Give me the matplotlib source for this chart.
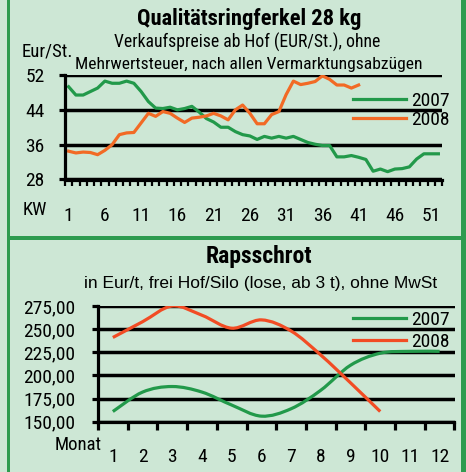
import matplotlib.pyplot as plt
import numpy as np
from matplotlib.path import Path
from matplotlib.patches import PathPatch, Rectangle
from matplotlib.lines import Line2D

# Qualitaetsringferkel 28 kg, Eur/St. je Kalenderwoche
weeks = list(range(1, 53))
ferkel_2007 = [49.3, 47.4, 47.4, 48.2, 49.0, 50.6, 50.1, 50.1, 50.6, 50.1,
               48.2, 45.9, 44.4, 44.3, 44.6, 44.0, 44.3, 44.8, 43.5, 42.0,
               41.2, 40.0, 40.0, 39.0, 38.3, 38.0, 37.2, 37.9, 37.5, 37.9,
               37.5, 37.9, 37.2, 36.5, 36.1, 35.8, 35.8, 33.2, 33.2, 33.5,
               33.1, 32.6, 29.9, 30.4, 29.8, 30.4, 30.5, 30.9, 32.7, 33.9,
               33.9, 33.9]
ferkel_2008 = [34.5, 34.1, 34.3, 34.2, 33.7, 34.7, 36.0, 38.3, 38.7, 38.8,
               41.0, 43.2, 42.5, 43.6, 43.2, 42.1, 41.1, 42.1, 42.3, 42.6,
               43.2, 42.6, 41.7, 44.0, 45.1, 43.2, 40.8, 40.8, 42.9, 43.6,
               47.5, 50.6, 49.8, 50.1, 50.5, 51.8, 51.0, 49.7, 49.7, 49.0,
               49.7]
ferkel_yticks = [28, 36, 44, 52]
ferkel_xticks = [1, 6, 11, 16, 21, 26, 31, 36, 41, 46, 51]

# Rapsschrot, Eur/t je Monat
months = list(range(1, 13))
raps_2007 = [161, 182, 188, 182, 168, 156, 164, 184, 211, 224, 226, 226]
raps_2008 = [241, 258, 275, 265, 251, 260, 248, 222, 192, 161]
raps_yticks = [150, 175, 200, 225, 250, 275]
raps_ylabels = ['150,00', '175,00', '200,00', '225,00', '250,00', '275,00']

W, H = 466, 472
bg = '#cde7d5'
frame = '#2e9b4f'
green = '#22994a'
orange = '#f26a25'
red = '#f24c24'

plt.rcParams['font.family'] = ['Roboto Condensed', 'Liberation Sans', 'DejaVu Sans']


def fx(px):
    return px / W


def fy(py):
    return 1 - py / H


def smooth_path(xs, ys):
    # Excel-artige geglaettete Linie als Bezier-Pfad
    p = np.column_stack([xs, ys]).astype(float)
    pts = np.vstack([p[0], p, p[-1]])
    verts = [p[0]]
    codes = [Path.MOVETO]
    for i in range(1, len(p)):
        p0, p1, p2, p3 = pts[i - 1], pts[i], pts[i + 1], pts[i + 2]
        verts += [p1 + (p2 - p0) / 6, p2 - (p3 - p1) / 6, p2]
        codes += [Path.CURVE4] * 3
    return Path(verts, codes)


def style_axes(ax, n_cat, labels, comb_len, comb_w, xpad, ypad):
    ax.set_facecolor('none')
    for s in ['top', 'right']:
        ax.spines[s].set_visible(False)
    for s in ['left', 'bottom']:
        ax.spines[s].set_linewidth(2.3)
        ax.spines[s].set_color('black')
    ax.grid(axis='y', color='black', linewidth=2.5)
    ax.set_axisbelow(True)
    # Striche an den Kategoriegrenzen, Beschriftung in der Mitte
    ax.set_xticks(np.arange(0.5, n_cat + 1, 1), labels=[])
    ax.set_xticks(labels, labels=[str(v) for v in labels], minor=True)
    ax.tick_params(axis='y', length=4.5, width=2.3, labelsize=14, pad=ypad)
    ax.tick_params(axis='x', which='major', length=comb_len, width=comb_w,
                   direction='out', color='black', bottom=True)
    ax.tick_params(axis='x', which='minor', length=0, labelsize=14, pad=xpad)


fig = plt.figure(figsize=(W / 100, H / 100), dpi=100, facecolor=bg)

# Rahmen
fig.add_artist(Rectangle((fx(7), 0), fx(3), 1, transform=fig.transFigure, color=frame, lw=0))
fig.add_artist(Rectangle((fx(461), 0), fx(5), 1, transform=fig.transFigure, color=frame, lw=0))
fig.add_artist(Rectangle((fx(7), fy(240)), fx(459), 4 / H, transform=fig.transFigure, color=frame, lw=0))

# --- oben: Ferkel ---
ax1 = fig.add_axes([fx(65), fy(179.5), fx(442 - 65), (179.5 - 75) / H])
ax1.plot(weeks, ferkel_2007, color=green, lw=2.3, label='2007', solid_joinstyle='round')
ax1.plot(weeks[:len(ferkel_2008)], ferkel_2008, color=orange, lw=2.3, label='2008',
         solid_joinstyle='round')
ax1.set_yticks(ferkel_yticks)
style_axes(ax1, len(weeks), ferkel_xticks, 4.5, 1.6, 20, 10)
ax1.set_xlim(0.5, 52.5)
ax1.set_ylim(28, 52)
ax1.legend(loc='upper left', bbox_to_anchor=(fx(353), fy(92)), bbox_transform=fig.transFigure,
           frameon=False, borderpad=0, borderaxespad=0, handlelength=2.7,
           handletextpad=0.3, labelspacing=0.05, fontsize=14)

fig.text(fx(249), fy(25), 'Qualitätsringferkel 28 kg', ha='center', va='baseline',
         fontsize=16.2, fontweight='bold')
fig.text(fx(247), fy(48), 'Verkaufspreise ab Hof (EUR/St.), ohne', ha='center',
         va='baseline', fontsize=12.7)
fig.text(fx(249), fy(69), 'Mehrwertsteuer, nach allen Vermarktungsabzügen', ha='center',
         va='baseline', fontsize=12.6)
fig.text(fx(22), fy(56), 'Eur/St.', ha='left', va='baseline', fontsize=13.5)
fig.text(fx(23), fy(215), 'KW', ha='left', va='baseline', fontsize=13.5)

# --- unten: Rapsschrot ---
ax2 = fig.add_axes([fx(98), fy(421.7), fx(454.5 - 98), (421.7 - 306) / H])
ax2.add_patch(PathPatch(smooth_path(months, raps_2007), fill=False, edgecolor=green,
                        lw=2.3, capstyle='butt'))
ax2.add_patch(PathPatch(smooth_path(months[:len(raps_2008)], raps_2008), fill=False,
                        edgecolor=red, lw=2.3, capstyle='butt'))
ax2.set_yticks(raps_yticks)
ax2.set_yticklabels(raps_ylabels)
style_axes(ax2, len(months), months, 5.5, 2.3, 19, 12)
ax2.set_xlim(0.5, 12.5)
ax2.set_ylim(150, 275)
handles = [Line2D([], [], color=green, lw=2.3), Line2D([], [], color=red, lw=2.3)]
ax2.legend(handles, ['2007', '2008'], loc='upper left', bbox_to_anchor=(fx(353), fy(311)),
           bbox_transform=fig.transFigure, frameon=False, borderpad=0, borderaxespad=0,
           handlelength=2.7, handletextpad=0.3, labelspacing=0.2, fontsize=14)

fig.text(fx(259), fy(263), 'Rapsschrot', ha='center', va='baseline',
         fontsize=17, fontweight='bold')
fig.text(fx(261), fy(288), 'in Eur/t, frei Hof/Silo (lose, ab 3 t), ohne MwSt',
         ha='center', va='baseline', fontsize=12.5, family=['Liberation Sans', 'DejaVu Sans'])
fig.text(fx(55), fy(450), 'Monat', ha='left', va='baseline', fontsize=13.5)

fig.savefig('out.png', dpi=100, facecolor=bg)
